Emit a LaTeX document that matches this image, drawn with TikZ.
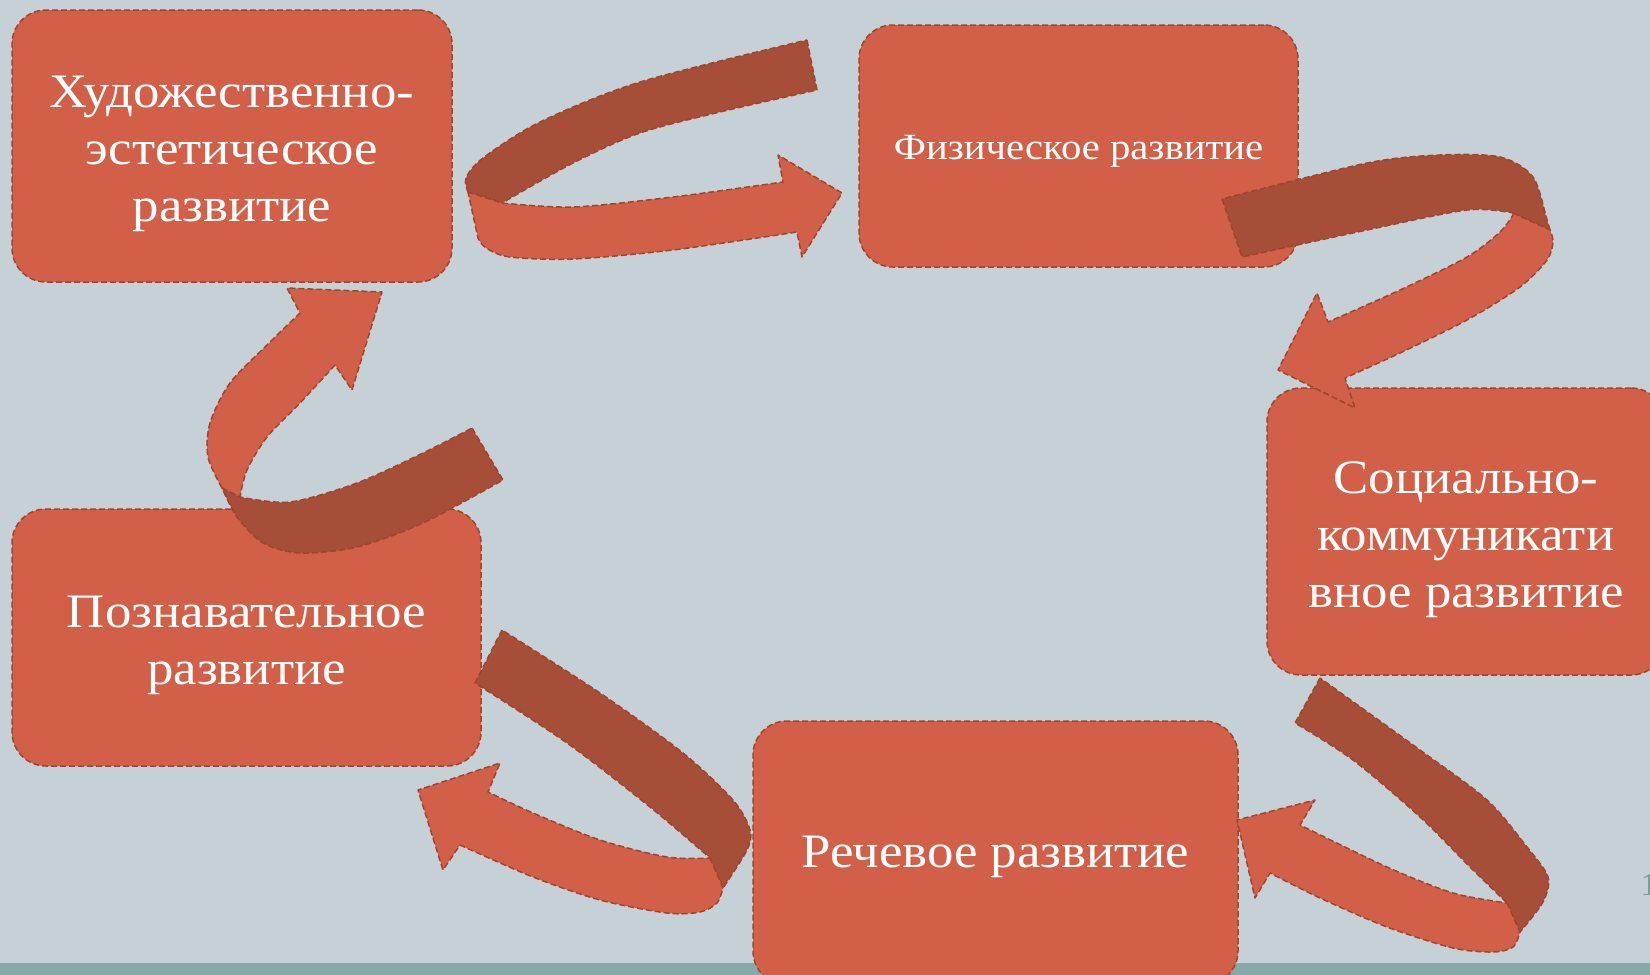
\documentclass[tikz,border=0pt]{standalone}
\usepackage{fontspec}
\setmainfont{Liberation Serif}[FakeStretch=1.1]
\definecolor{slide}{HTML}{C5D1D7}
\definecolor{band}{HTML}{87A9A9}
\definecolor{brick}{HTML}{D26048}
\definecolor{brickdark}{HTML}{A64E38}
\definecolor{seam}{HTML}{A0442E}
\definecolor{pagenum}{HTML}{7D9A9E}
\newcommand\lift[1]{\rule{0pt}{#1}}
\begin{document}
\begin{tikzpicture}[x=0.5pt,y=-0.5pt,
    stage/.style={draw=seam, fill=brick, line width=0.75pt, dash pattern=on 3pt off 1.5pt,
        rounded corners=17pt, text=white, align=center, inner sep=0pt,
        font=\fontsize{24}{28.5}\selectfont},
    front/.style={fill=brick, draw=seam, line width=0.75pt, dash pattern=on 3pt off 1.5pt, line join=round},
    back/.style={front, fill=brickdark}]
        \useasboundingbox (0,0) rectangle (1650,975);
        % Slide background
        \fill[slide] (0,0) rectangle (1650,975);
        \fill[band] (0,963) rectangle (1650,975);
        % Areas of development
        \node[stage, minimum width=220pt, minimum height=136pt] (art) at (232,146) {\lift{24pt}Художественно-\\эстетическое\\развитие};
        \node[stage, minimum width=219.5pt, minimum height=121pt, font=\fontsize{18.5}{22}\selectfont] (phys) at (1078.5,146) {\lift{17.5pt}Физическое развитие};
        \node[stage, minimum width=199pt, minimum height=143.5pt] (soc) at (1466,531.5) {\lift{24pt}Социально-\\коммуникати\\вное развитие};
        \node[stage, minimum width=242.5pt, minimum height=132pt] (speech) at (995.5,853) {\lift{19.5pt}Речевое развитие};
        \node[stage, minimum width=234.5pt, minimum height=128.5pt] (cog) at (246.5,637.5) {\lift{24pt}Познавательное\\развитие};
        % Top arrow
        \draw[back] (807,40) -- (817,90) -- plot[smooth] coordinates {(817,90) (720,112) (640,133) (573,163) (502,203)}
            -- (468,192) -- plot[smooth] coordinates {(468,192) (466,178) (483,158) (540,122) (640,82) (807,40)} -- cycle;
        \draw[front] (468,192) -- (502,203) -- plot[smooth] coordinates {(502,203) (573,207) (673,197) (783,182)}
            -- (778,155) -- (842,193) -- (802,257) -- (797,232)
            -- plot[smooth] coordinates {(797,232) (673,250) (573,259) (510,257) (486,248) (478,238)} -- cycle;
        % Right upper arrow
        \draw[back] (1222,199) -- (1242,257) -- plot[smooth] coordinates {(1242,257) (1367,230) (1467,210) (1513,213)}
            -- (1550,230) -- plot[smooth] coordinates {(1550,230) (1547,220) (1533,177) (1500,157) (1440,155) (1367,163) (1222,199)} -- cycle;
        \draw[front] (1513,213) -- (1550,230) -- plot[smooth] coordinates {(1550,230) (1553,242) (1547,260) (1520,287) (1467,320) (1400,353) (1345,378)}
            -- (1355,408) -- (1278,370) -- (1317,293) -- (1328,322)
            -- plot[smooth] coordinates {(1328,322) (1400,290) (1467,257) (1500,232) (1513,215)} -- cycle;
        % Right lower arrow
        \draw[back] (1320,678) -- (1295,723) -- plot[smooth] coordinates {(1295,723) (1353,760) (1420,817) (1470,867) (1507,903)}
            -- (1520,932) -- plot[smooth] coordinates {(1520,932) (1543,902) (1548,877) (1527,847) (1487,800) (1420,750) (1320,678)} -- cycle;
        \draw[front] (1507,903) -- (1520,932) -- plot[smooth] coordinates {(1520,932) (1513,947) (1493,952) (1453,948) (1387,927) (1320,898) (1270,873)}
            -- (1255,898) -- (1237,820) -- (1315,800) -- (1300,825)
            -- plot[smooth] coordinates {(1300,825) (1387,867) (1453,893) (1507,903)} -- cycle;
        % Bottom arrow
        \draw[back] (502,630) -- (475,683) -- plot[smooth] coordinates {(475,683) (567,743) (650,807) (710,858)}
            -- (723,888) -- plot[smooth] coordinates {(723,888) (747,850) (750,830) (733,800) (683,753) (600,693) (502,630)} -- cycle;
        \draw[front] (710,858) -- (723,888) -- plot[smooth] coordinates {(723,888) (717,903) (700,912) (667,913) (600,900) (533,877) (460,845)}
            -- (443,870) -- (418,790) -- (500,763) -- (488,792)
            -- plot[smooth] coordinates {(488,792) (533,813) (600,840) (667,857) (710,858)} -- cycle;
        % Left arrow
        \draw[front] (222,488) -- plot[smooth] coordinates {(222,488) (208,457) (210,423) (230,383) (267,345) (300,313)}
            -- (287,288) -- (382,292) -- (352,390) -- (335,365)
            -- plot[smooth] coordinates {(335,365) (300,403) (267,437) (247,470) (240,497)} -- cycle;
        \draw[back] (472,428) -- (503,480) -- plot[smooth] coordinates {(503,480) (423,523) (357,547) (300,553) (263,543) (237,517) (222,488)}
            -- (240,497) -- plot[smooth] coordinates {(240,497) (290,502) (357,483) (423,453) (472,428)} -- cycle;
        % Slide number
        \node[anchor=base west, text=pagenum, font=\fontsize{16}{18}\selectfont, inner sep=0pt] (num) at (1640,895) {1};
    \end{tikzpicture}
\end{document}
